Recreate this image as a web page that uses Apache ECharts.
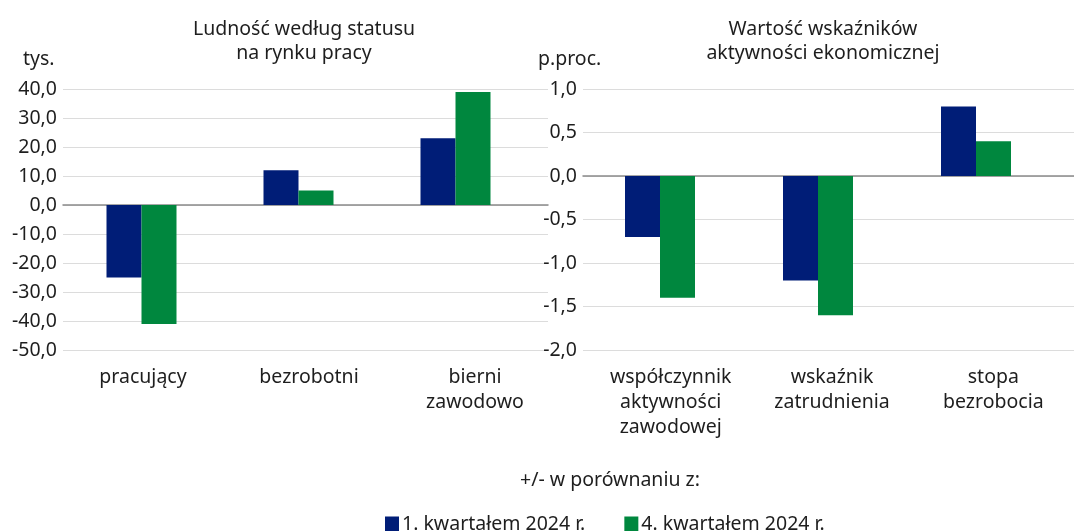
<!DOCTYPE html>
<html><head><meta charset="utf-8">
<script src="https://cdn.jsdelivr.net/npm/echarts@6/dist/echarts.min.js"></script>
<style>html,body{margin:0;padding:0;background:#fff}#c{width:1074px;height:531px}</style>
</head><body><div id="c"></div>
<script>
const leftCategories = ['pracujący', 'bezrobotni', 'bierni\nzawodowo'];
const leftQ1 = [-25, 12, 23];
const leftQ4 = [-41, 5, 39];
const rightCategories = ['współczynnik\naktywności\nzawodowej', 'wskaźnik\nzatrudnienia', 'stopa\nbezrobocia'];
const rightQ1 = [-0.7, -1.2, 0.8];
const rightQ4 = [-1.4, -1.6, 0.4];
const seriesNames = ['1. kwartałem 2024 r.', '4. kwartałem 2024 r.'];
const leftTicks = {min: -50, max: 40, interval: 10};
const rightTicks = {min: -2, max: 1, interval: 0.5};

const FONT = 'Noto Sans';
const FS = 19.5;
const TXT = '#1e1e1e';
const BLUE = '#001d77';
const GREEN = '#00873e';
const fmt = v => v.toFixed(1).replace('.', ',');
const TOP = 89, H = 261;

const chart = echarts.init(document.getElementById('c'));

// grids: 0/1 = bars, 2/3 = gridlines+zero line, 4/5 = category labels
const grids = [
  {left: 63, top: TOP, width: 471, height: H},
  {left: 581, top: TOP, width: 474, height: H},
  {left: 63, top: TOP, width: 485, height: H},
  {left: 583, top: TOP, width: 491, height: H},
  {left: 60, top: TOP, width: 498, height: H},
  {left: 590, top: TOP, width: 507, height: H}
];
const hiddenLabel = {show: false};
function xAx(idx, cats, opts) {
  return Object.assign({type: 'category', gridIndex: idx, data: cats,
    axisLine: {show: false}, axisTick: {show: false}, axisLabel: hiddenLabel}, opts || {});
}
function yAx(idx, t, opts) {
  return Object.assign({type: 'value', gridIndex: idx, min: t.min, max: t.max, interval: t.interval,
    axisLine: {show: false}, axisTick: {show: false}, splitLine: {show: false}, axisLabel: hiddenLabel}, opts || {});
}
const catLabel = {show: true, color: TXT, fontFamily: FONT, fontSize: FS, margin: 15, lineHeight: 25, interval: 0};
const zeroAxisLine = {show: true, onZero: true, lineStyle: {color: '#8a8a8a', width: 1.5}};
const split = {show: true, lineStyle: {color: '#dcdcdc', width: 1}};
const valLabel = m => ({show: true, color: TXT, fontFamily: FONT, fontSize: FS, margin: m, formatter: fmt});

function bar(name, data, idx, color) {
  return {name, type: 'bar', xAxisIndex: idx, yAxisIndex: idx, data, barWidth: 35, barGap: '0%',
    itemStyle: {color}, emphasis: {disabled: true}, z: 3};
}
const ts = {fontFamily: FONT, fontSize: FS, fontWeight: 'normal', color: TXT};
chart.setOption({
  animation: false,
  textStyle: {fontFamily: FONT},
  title: [
    {text: 'Ludność według statusu\nna rynku pracy', left: 299, top: 12, textAlign: 'center',
      textStyle: Object.assign({lineHeight: 24}, ts)},
    {text: 'Wartość wskaźników\naktywności ekonomicznej', left: 818, top: 12, textAlign: 'center',
      textStyle: Object.assign({lineHeight: 24}, ts)},
    {text: 'tys.', left: 18, top: 44, textStyle: ts},
    {text: 'p.proc.', left: 533, top: 44, textStyle: ts},
    {text: '+/- w porównaniu z:', left: 605, top: 465, textAlign: 'center', textStyle: ts}
  ],
  legend: {data: seriesNames, left: 380, top: 509, itemWidth: 14, itemHeight: 15, itemGap: 39,
    icon: 'rect', textStyle: {fontFamily: FONT, fontSize: FS, color: TXT, padding: [0, 0, 0, -2]}},
  grid: grids,
  xAxis: [
    xAx(0, leftCategories),
    xAx(1, rightCategories),
    xAx(2, leftCategories, {axisLine: zeroAxisLine}),
    xAx(3, rightCategories, {axisLine: zeroAxisLine}),
    xAx(4, leftCategories, {axisLabel: catLabel}),
    xAx(5, rightCategories, {axisLabel: catLabel})
  ],
  yAxis: [
    yAx(0, leftTicks, {axisLabel: valLabel(6)}),
    yAx(1, rightTicks, {axisLabel: valLabel(4)}),
    yAx(2, leftTicks, {splitLine: split}),
    yAx(3, rightTicks, {splitLine: split}),
    yAx(4, leftTicks),
    yAx(5, rightTicks)
  ],
  series: [
    bar(seriesNames[0], leftQ1, 0, BLUE),
    bar(seriesNames[1], leftQ4, 0, GREEN),
    bar(seriesNames[0], rightQ1, 1, BLUE),
    bar(seriesNames[1], rightQ4, 1, GREEN)
  ]
});
</script></body></html>
